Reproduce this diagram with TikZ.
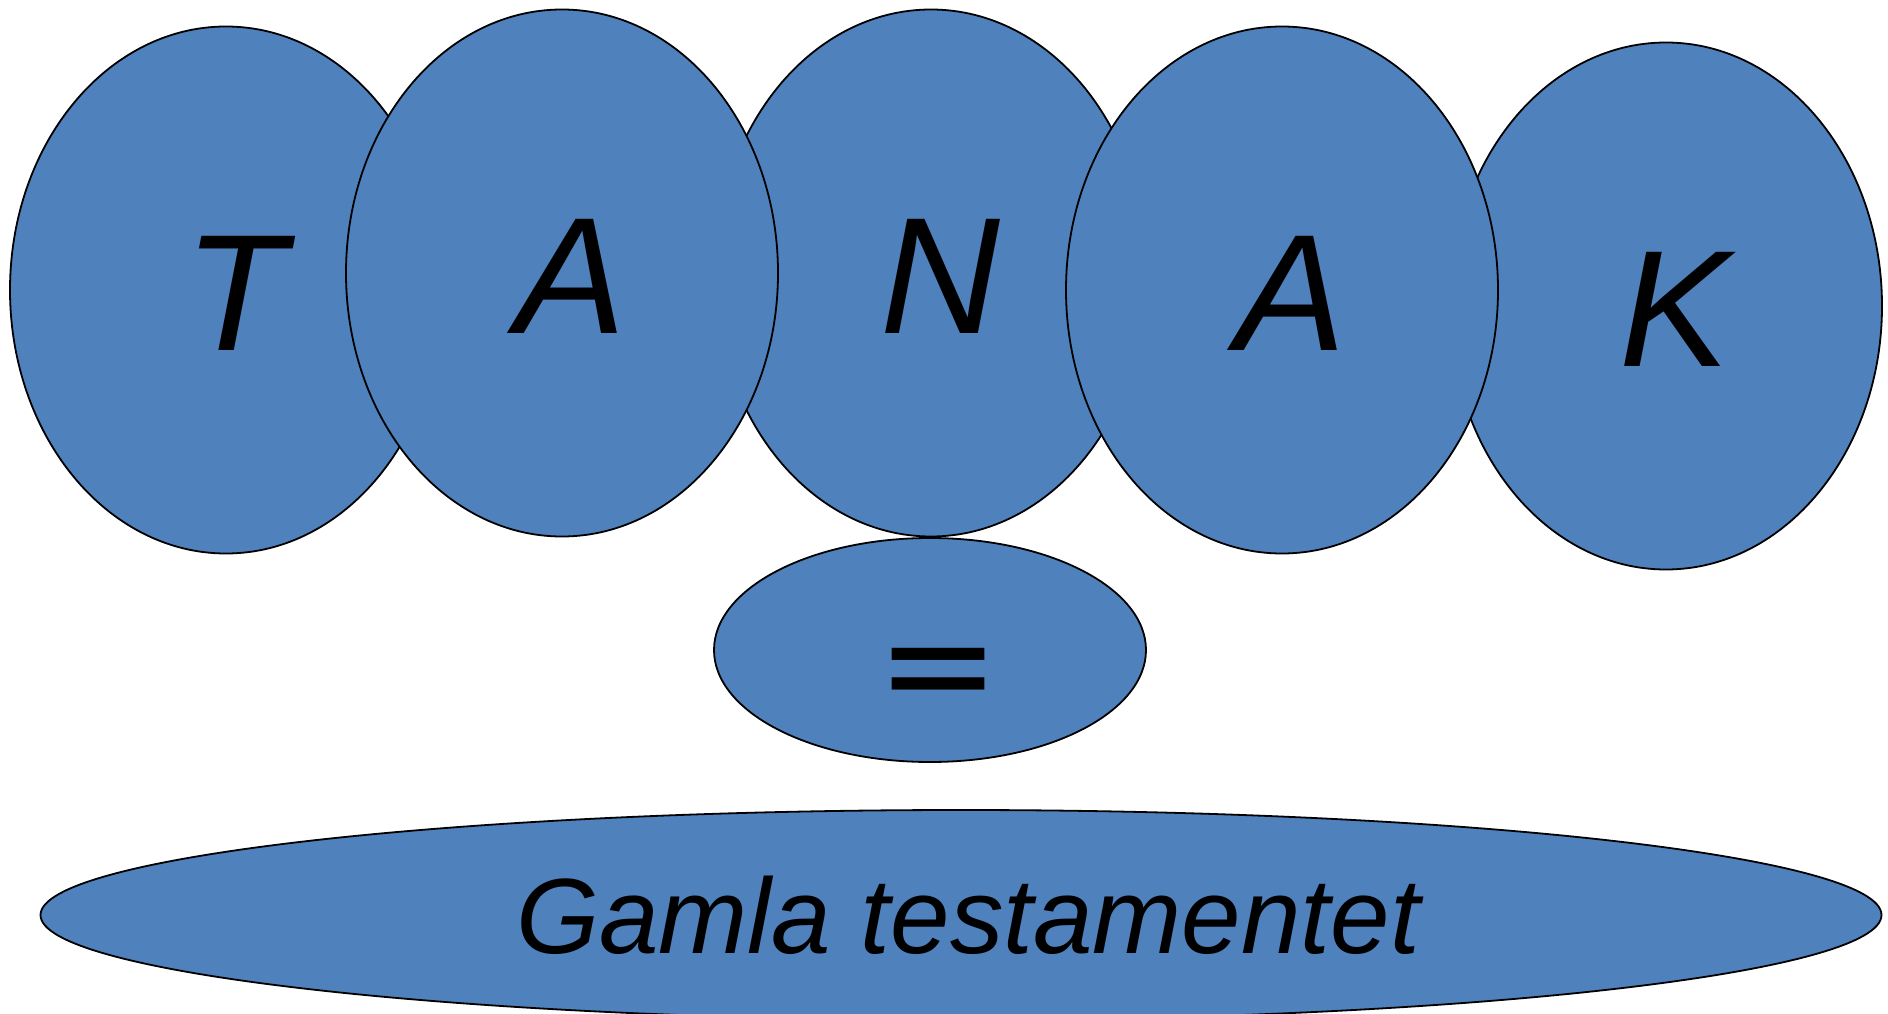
\documentclass[tikz,border=0pt]{standalone}
\usepackage{fontspec}
\setmainfont{Liberation Sans}
\newfontfamily\eqfont{DejaVu Sans}
\usetikzlibrary{shapes.geometric}
\definecolor{ovalblue}{HTML}{4F81BD}
\begin{document}
\begin{tikzpicture}[x=1pt,y=-1pt,
    oval/.style={ellipse,draw=black,line width=1.8pt,fill=ovalblue,inner sep=0pt,
      minimum width=432pt,minimum height=527pt},
    letter/.style={oval,font=\fontsize{166}{166}\selectfont\itshape,
      text height=121pt,text depth=0pt,execute at begin node={\kern18pt}}]
  \useasboundingbox (0,0) rectangle (1888,1014);

  % TANAK
  \node[letter] (t) at (226,290) {T};
  \node[letter] (n) at (931,273) {N};
  \node[letter] (k) at (1666,306) {K};
  \node[letter] (a1) at (562,273) {A};
  \node[letter] (a2) at (1282,290) {A};

  % =
  \node[oval,minimum height=224pt,font=\fontsize{148}{148}\selectfont\eqfont,
    text height=130pt,text depth=0pt,execute at begin node={\kern17pt}] (eq) at (930,650) {=};

  % Gamla testamentet
  \node[oval,minimum width=1841pt,minimum height=210pt,execute at begin node={\kern14pt},
    font=\fontsize{107}{107}\selectfont\itshape] (gt) at (961,915) {Gamla testamentet};
\end{tikzpicture}
\end{document}
